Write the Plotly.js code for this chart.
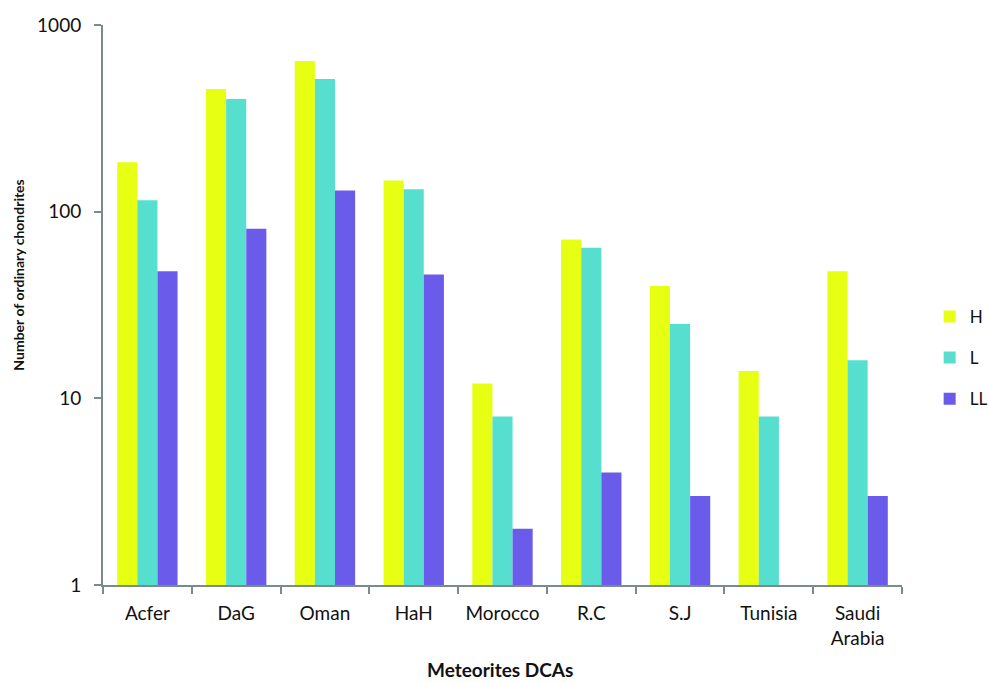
<!DOCTYPE html>
<html>
<head>
<meta charset="utf-8">
<script src="https://cdn.plot.ly/plotly-3.0.1.min.js"></script>
<style>html,body{margin:0;padding:0;background:#fff;}#chart{width:989px;height:683px;}</style>
</head>
<body>
<div id="chart"></div>
<script>
const categories = ["Acfer", "DaG", "Oman", "HaH", "Morocco", "R.C", "S.J", "Tunisia", "Saudi<br>Arabia"];
const seriesH = [184, 454, 641, 147, 12, 71, 40, 14, 48];
const seriesL = [115, 401, 513, 132, 8, 64, 25, 8, 16];
const seriesLL = [48, 81, 130, 46, 2, 4, 3, null, 3];
const yTickVals = [1, 10, 100, 1000];
const yTickText = ["1", "10", "100", "1000"];

const font = "Lato, 'Open Sans', sans-serif";
const axisColor = "#7b8b8b";

function bar(name, y, color, group) {
  return {
    type: "bar", name: name, x: categories, y: y,
    marker: {color: color, line: {width: 0}},
    legendgroup: group
  };
}

const data = [
  bar("H", seriesH, "#e6ff12", "a"),
  bar("L", seriesL, "#56dfcf", "b"),
  bar("LL", seriesLL, "#6b5bea", "c")
];

const layout = {
  width: 989, height: 683,
  margin: {l: 103, r: 87, t: 25, b: 98},
  paper_bgcolor: "#ffffff", plot_bgcolor: "#ffffff",
  barmode: "group", bargap: 0.32, bargroupgap: 0,
  font: {family: font, color: "#111111", size: 19},
  showlegend: true,
  legend: {xref: "container", yref: "container", x: 0.94, xanchor: "left", y: 0.476, yanchor: "middle",
           itemwidth: 30,
           font: {family: font, size: 17, color: "#111"}, tracegroupgap: 16,
           bgcolor: "rgba(0,0,0,0)"},
  xaxis: {
    type: "category", showline: true, linecolor: axisColor, linewidth: 2,
    ticks: "outside", tickson: "boundaries", ticklen: 7, tickcolor: axisColor, tickwidth: 2,
    ticklabelstandoff: 10,
    showgrid: false, zeroline: false,
    tickfont: {family: font, size: 19, color: "#111"},
    title: {text: ""}
  },
  yaxis: {
    type: "log", range: [0, 3], showline: true, linecolor: axisColor, linewidth: 2,
    ticks: "outside", ticklen: 7, tickcolor: axisColor, tickwidth: 2,
    ticklabelstandoff: 9,
    tickvals: yTickVals, ticktext: yTickText, showgrid: false, zeroline: false,
    tickfont: {family: font, size: 19, color: "#111"}
  },
  annotations: [
    {text: "<b>Number of ordinary chondrites</b>", xref: "paper", yref: "paper",
     x: -0.106, y: 0.553, xanchor: "center", yanchor: "middle", textangle: -90,
     showarrow: false, font: {family: font, size: 14, color: "#111"}},
    {text: "<b>Meteorites DCAs</b>", xref: "paper", yref: "paper",
     x: 0.497, y: -0.127, xanchor: "center", yanchor: "top",
     showarrow: false, font: {family: font, size: 19, color: "#111"}}
  ]
};

Plotly.newPlot("chart", data, layout, {displayModeBar: false, staticPlot: true});
</script>
</body>
</html>
